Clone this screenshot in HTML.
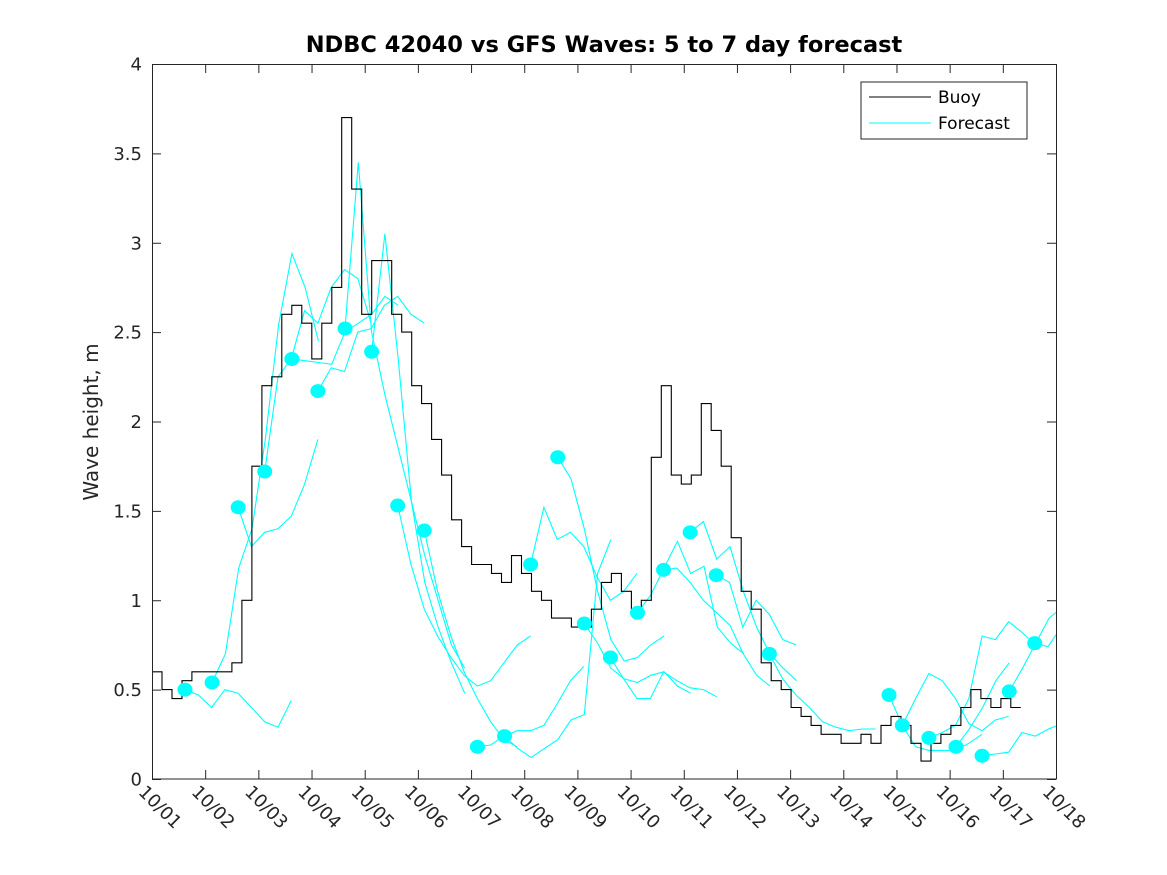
<!DOCTYPE html>
<html><head><meta charset="utf-8"><style>
body{margin:0;background:#fff;}
svg{display:block;font-family:"DejaVu Sans","Liberation Sans",sans-serif;}
</style></head><body>
<svg id="chart" width="1167" height="875" viewBox="0 0 1167 875" xmlns="http://www.w3.org/2000/svg">
<rect width="1167" height="875" fill="#fff"/>
<text x="604" y="52" text-anchor="middle" font-size="22.5" font-weight="bold" fill="#000">NDBC 42040 vs GFS Waves: 5 to 7 day forecast</text>
<text transform="translate(98,422) rotate(-90)" text-anchor="middle" font-size="20" fill="#262626">Wave height, m</text>
<defs><clipPath id="plotclip"><rect x="152" y="64" width="904" height="715"/></clipPath></defs>
<g id="series" clip-path="url(#plotclip)"></g>
<rect x="152.5" y="64.5" width="904" height="714.5" fill="none" stroke="#262626" stroke-width="1"/>
<g id="axes"></g>
<g>
<rect x="861" y="82" width="166" height="57" fill="#fff" stroke="#262626" stroke-width="1"/>
<line x1="869" y1="97" x2="931" y2="97" stroke="#000" stroke-width="1"/>
<text x="938" y="103" font-size="17" fill="#000">Buoy</text>
<line x1="869" y1="123" x2="931" y2="123" stroke="#00ffff" stroke-width="1"/>
<text x="938" y="129" font-size="17" fill="#000">Forecast</text>
</g>
</svg>
<script>
const xTickLabels=["10/01","10/02","10/03","10/04","10/05","10/06","10/07","10/08","10/09","10/10","10/11","10/12","10/13","10/14","10/15","10/16","10/17","10/18"];
const yTicks=[0,0.5,1,1.5,2,2.5,3,3.5,4];
const yTickLabels=["0","0.5","1","1.5","2","2.5","3","3.5","4"];
const buoyStartDay=0;
const buoyStepDays=0.1878;
const buoyValues=[0.60,0.50,0.45,0.55,0.60,0.60,0.60,0.60,0.65,1.00,1.75,2.20,2.25,2.60,2.65,2.55,2.35,2.55,2.75,3.70,3.30,2.60,2.90,2.90,2.60,2.50,2.20,2.10,1.90,1.70,1.45,1.30,1.20,1.20,1.15,1.10,1.25,1.15,1.05,1.00,0.90,0.90,0.85,0.85,0.95,1.10,1.15,1.05,0.95,1.00,1.80,2.20,1.70,1.65,1.70,2.10,1.95,1.75,1.35,1.05,0.95,0.65,0.55,0.50,0.40,0.35,0.30,0.25,0.25,0.20,0.20,0.25,0.20,0.30,0.35,0.30,0.20,0.10,0.20,0.25,0.30,0.40,0.50,0.45,0.40,0.45,0.40,0.40];
const forecastStepDays=0.25;
const dotDays=[0.62,1.13,1.62,2.12,2.63,3.12,3.63,4.13,4.62,5.12,6.12,6.63,7.12,7.63,8.13,8.62,9.13,9.62,10.12,10.61,11.61,13.86,14.11,14.61,15.12,15.61,16.12,16.60];
const dotValues=[0.50,0.54,1.52,1.72,2.35,2.17,2.52,2.39,1.53,1.39,0.18,0.24,1.20,1.80,0.87,0.68,0.93,1.17,1.38,1.14,0.70,0.47,0.30,0.23,0.18,0.13,0.49,0.76];
const forecastRuns=[
[0.50,0.47,0.40,0.50,0.48,0.40,0.32,0.29,0.44],
[0.54,0.70,1.18,1.40,1.90,2.54,2.94,2.75,2.45],
[1.52,1.30,1.38,1.40,1.47,1.65,1.90],
[1.72,2.25,2.35,2.62,2.55,2.75,2.85,2.80,2.55],
[2.35,2.34,2.33,2.32,2.50,2.55,2.60,2.70,2.65],
[2.17,2.30,2.28,2.50,2.52,2.65,2.70,2.60,2.55],
[2.52,3.45,2.50,2.15,1.85,1.55,1.25,1.00,0.75,0.62],
[2.39,3.05,2.35,1.55,1.10,0.85,0.65,0.48],
[1.53,1.20,0.95,0.80,0.68,0.58,0.52,0.55,0.65,0.75,0.80],
[1.39,1.05,0.80,0.60,0.45,0.32,0.22,0.18],
[0.18,0.19,0.24,0.27,0.27,0.30,0.42,0.55,0.63],
[0.24,0.17,0.12,0.17,0.22,0.33,0.36,1.15,1.34],
[1.20,1.52,1.34,1.38,1.30,1.13,1.00,1.05,1.15],
[1.80,1.68,1.40,1.05,0.78,0.66,0.68,0.75,0.80],
[0.87,0.76,0.62,0.56,0.54,0.58,0.60,0.52,0.48],
[0.68,0.56,0.45,0.45,0.60,0.55,0.51,0.50,0.46],
[0.93,1.03,1.18,1.33,1.15,1.19,0.85,0.76,0.70],
[1.17,1.18,1.10,1.00,0.93,0.86,0.70,0.58,0.52],
[1.38,1.44,1.23,1.30,1.05,0.85,0.70,0.62,0.55],
[1.14,1.10,0.85,1.00,0.92,0.78,0.75],
[0.70,0.56,0.47,0.40,0.32,0.29,0.27,0.28,0.28],
[0.47,0.30,0.18,0.16,0.16,0.16,0.20,0.25],
[0.30,0.45,0.59,0.55,0.45,0.31,0.27,0.33,0.35],
[0.23,0.26,0.30,0.45,0.80,0.78,0.88,0.82,0.75],
[0.18,0.28,0.40,0.55,0.65],
[0.13,0.14,0.15,0.26,0.24,0.28,0.31],
[0.49,0.62,0.76,0.90,0.96],
[0.76,0.74,0.85]
];
const NS="http://www.w3.org/2000/svg";
const X0=152,X1=1056,Y0=779,Y1=64,DMAX=17,VMAX=4;
function xs(d){return X0+(d/DMAX)*(X1-X0);}
function ys(v){return Y0-(v/VMAX)*(Y0-Y1);}
function mk(tag,attrs,parent){const e=document.createElementNS(NS,tag);for(const k in attrs)e.setAttribute(k,attrs[k]);parent.appendChild(e);return e;}
const axes=document.getElementById('axes');
const series=document.getElementById('series');
xTickLabels.forEach((lab,i)=>{
  const x=xs(i)+0.5;
  const t1=mk('line',{x1:x,y1:Y0,x2:x,y2:Y0-9,stroke:'#262626'},axes);
  
  
  const t2=mk('line',{x1:x,y1:Y1,x2:x,y2:Y1+9,stroke:'#262626'},axes);
  
  
  const tx=mk('text',{transform:'translate('+(x-15)+','+(Y0+14)+') rotate(45)','font-size':'18',fill:'#262626'},axes);
  tx.textContent=lab;
  
  
});
yTicks.forEach((v,i)=>{
  const y=ys(v)+0.5;
  const t1=mk('line',{x1:X0,y1:y,x2:X0+9,y2:y,stroke:'#262626'},axes);
  
  
  const t2=mk('line',{x1:X1,y1:y,x2:X1-9,y2:y,stroke:'#262626'},axes);
  
  
  const tx=mk('text',{x:X0-10,y:y+6,'text-anchor':'end','font-size':'18',fill:'#262626'},axes);
  tx.textContent=yTickLabels[i];
  
  
});
forecastRuns.forEach((run,r)=>{
  const pts=run.map((v,i)=>xs(dotDays[r]+i*forecastStepDays).toFixed(1)+','+ys(v).toFixed(1)).join(' ');
  const pl=mk('polyline',{points:pts,fill:'none',stroke:'#00ffff','stroke-width':'1.1'},series);
  
  
});
let d='';
buoyValues.forEach((v,i)=>{
  const x=xs(buoyStartDay+i*buoyStepDays),y=ys(v);
  if(i===0)d+='M'+x.toFixed(1)+','+y.toFixed(1);
  else d+='H'+x.toFixed(1)+'V'+y.toFixed(1);
});
const bp=mk('path',{d:d,fill:'none',stroke:'#000','stroke-width':'1.1'},series);


dotDays.forEach((dd,i)=>{
  const c=mk('ellipse',{cx:xs(dd),cy:ys(dotValues[i]),rx:7.5,ry:7,fill:'#00ffff'},series);
  
  
});
</script>
</body></html>
